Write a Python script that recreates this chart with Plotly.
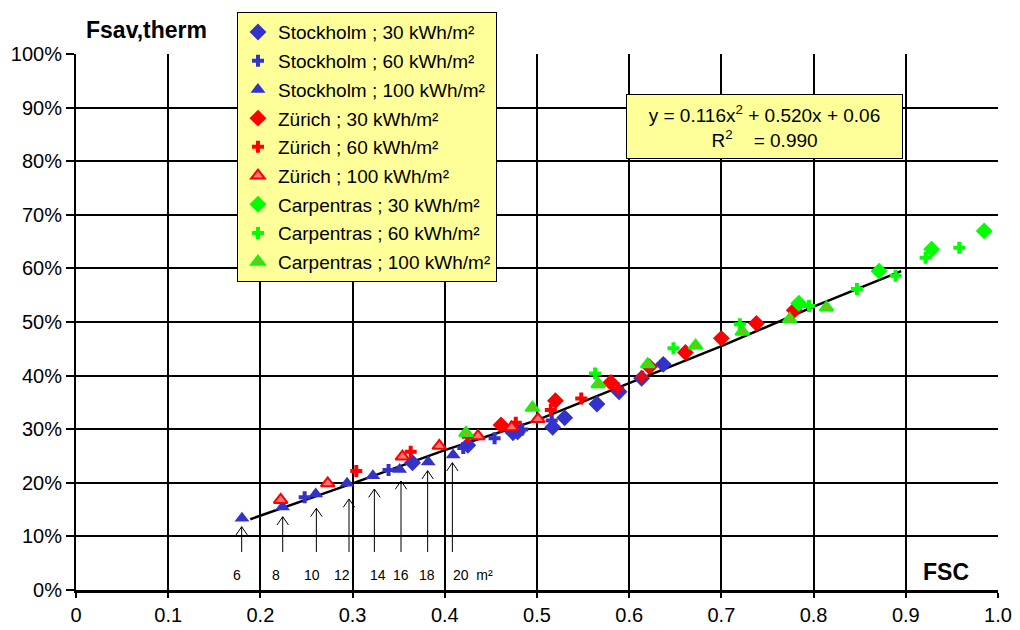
import plotly.graph_objects as go

# ---------------- data ----------------
sto30_x = [0.365, 0.425, 0.474, 0.479, 0.517, 0.530, 0.565, 0.589, 0.6135, 0.637]
sto30_y = [0.2375, 0.270, 0.2935, 0.295, 0.3035, 0.3215, 0.347, 0.370, 0.395, 0.421]
sto60_x = [0.248, 0.339, 0.420, 0.454, 0.484, 0.516]
sto60_y = [0.173, 0.224, 0.265, 0.283, 0.2995, 0.316]
sto100_x = [0.180, 0.224, 0.260, 0.294, 0.322, 0.351, 0.382, 0.409]
sto100_y = [0.134, 0.155, 0.179, 0.199, 0.213, 0.225, 0.239, 0.252]

zur30_x = [0.461, 0.520, 0.580, 0.622, 0.661, 0.700, 0.738, 0.779]
zur30_y = [0.308, 0.353, 0.387, 0.4165, 0.443, 0.4695, 0.4975, 0.522]
zur60_x = [0.304, 0.363, 0.425, 0.477, 0.515, 0.548, 0.588, 0.614]
zur60_y = [0.222, 0.258, 0.286, 0.312, 0.336, 0.3575, 0.376, 0.398]
zur100_x = [0.222, 0.273, 0.354, 0.394, 0.436, 0.4725, 0.501]
zur100_y = [0.168, 0.199, 0.249, 0.269, 0.287, 0.3035, 0.319]

car30_x = [0.784, 0.871, 0.928, 0.985]
car30_y = [0.535, 0.595, 0.6356, 0.670]
car60_x = [0.563, 0.648, 0.720, 0.795, 0.847, 0.889, 0.9215, 0.958]
car60_y = [0.404, 0.451, 0.496, 0.530, 0.5615, 0.5865, 0.620, 0.6386]
car100_x = [0.423, 0.495, 0.5665, 0.620, 0.672, 0.7227, 0.774, 0.814]
car100_y = [0.293, 0.340, 0.384, 0.421, 0.456, 0.482, 0.5055, 0.527]

fit_x = [0.189, 0.30, 0.40, 0.50, 0.60, 0.70, 0.80, 0.895]
fit_y = [0.132, 0.199, 0.261, 0.317, 0.386, 0.455, 0.5285, 0.595]

arrow_x = [0.1797, 0.2242, 0.2607, 0.2961, 0.3236, 0.3525, 0.3814, 0.4082]
arrow_tip = [0.1181, 0.1368, 0.1524, 0.1698, 0.1884, 0.2034, 0.2226, 0.2375]
arrow_base = 0.0709
area_labels = ["6", "8", "10", "12", "14", "16", "18", "20\u00a0\u00a0m²"]
area_label_x = [0.1746, 0.2166, 0.2556, 0.2882, 0.3279, 0.3525, 0.3804, 0.4306]
area_label_y = 0.028

x_ticks = [0.0, 0.1, 0.2, 0.3, 0.4, 0.5, 0.6, 0.7, 0.8, 0.9, 1.0]
x_ticktext = ["0", "0.1", "0.2", "0.3", "0.4", "0.5", "0.6", "0.7", "0.8", "0.9", "1.0"]
y_ticks = [0.0, 0.1, 0.2, 0.3, 0.4, 0.5, 0.6, 0.7, 0.8, 0.9, 1.0]
y_ticktext = ["0%", "10%", "20%", "30%", "40%", "50%", "60%", "70%", "80%", "90%", "100%"]

BLUE = "#3333CC"
RED = "#FF0000"
GREEN = "#00FF00"
FONT = "Liberation Sans, Arial, sans-serif"

fig = go.Figure()

# regression line (drawn first so markers sit on top)
fig.add_trace(go.Scatter(x=fit_x, y=fit_y, mode="lines",
                         line=dict(color="black", width=2.5),
                         showlegend=False, hoverinfo="skip"))

series = [
    ("Stockholm ; 30 kWh/m²", sto30_x, sto30_y, "diamond", 13, BLUE, BLUE, 0),
    ("Stockholm ; 60 kWh/m²", sto60_x, sto60_y, "cross", 10, BLUE, BLUE, 0),
    ("Stockholm ; 100 kWh/m²", sto100_x, sto100_y, "triangle-up", 13, BLUE, BLUE, 0),
    ("Zürich ; 30 kWh/m²", zur30_x, zur30_y, "diamond", 13, RED, RED, 0),
    ("Zürich ; 60 kWh/m²", zur60_x, zur60_y, "cross", 10, RED, RED, 0),
    ("Zürich ; 100 kWh/m²", zur100_x, zur100_y, "triangle-up", 12, "#FF7777", RED, 2),
    ("Carpentras ; 30 kWh/m²", car30_x, car30_y, "diamond", 13, GREEN, GREEN, 0),
    ("Carpentras ; 60 kWh/m²", car60_x, car60_y, "cross", 10, GREEN, GREEN, 0),
    ("Carpentras ; 100 kWh/m²", car100_x, car100_y, "triangle-up", 12, "#88B422", GREEN, 2),
]
for i, (name, xs, ys, sym, size, fill, edge, lw) in enumerate(series):
    fig.add_trace(go.Scatter(
        x=xs, y=ys, mode="markers", name=name, legendgroup=f"g{i}",
        marker=dict(symbol=sym, size=size, color=fill,
                    line=dict(color=edge, width=lw)),
    ))

# arrows (open V heads) for the collector areas
dx, dy = 0.0062, 0.0155
for xa, yt in zip(arrow_x, arrow_tip):
    path = (f"M {xa},{arrow_base} L {xa},{yt} "
            f"M {xa - dx},{yt - dy} L {xa},{yt} L {xa + dx},{yt - dy}")
    fig.add_shape(type="path", path=path, xref="x", yref="y",
                  line=dict(color="black", width=1))

for lab, lx in zip(area_labels, area_label_x):
    fig.add_annotation(x=lx, y=area_label_y, xref="x", yref="y", text=lab,
                       showarrow=False, xanchor="center", yanchor="middle",
                       font=dict(size=14, color="black", family=FONT))

# equation box
fig.add_annotation(
    x=0.7467, y=0.8647, xref="paper", yref="paper",
    xanchor="center", yanchor="middle",
    text="y = 0.116x<sup>2</sup> + 0.520x + 0.06<br>R<sup>2</sup>\u00a0\u00a0\u00a0\u00a0= 0.990",
    showarrow=False, align="center",
    font=dict(size=19, color="black", family=FONT),
    bgcolor="#FFFF99", bordercolor="black", borderwidth=1,
    width=273, height=61,
)

# axis titles
fig.add_annotation(x=0.077, y=1.0448, xref="paper", yref="paper",
                   xanchor="center", yanchor="middle",
                   text="<b>Fsav,therm</b>", showarrow=False,
                   font=dict(size=23, color="black", family=FONT))
fig.add_annotation(x=0.9436, y=0.0336, xref="paper", yref="paper",
                   xanchor="center", yanchor="middle",
                   text="<b>FSC</b>", showarrow=False,
                   font=dict(size=23, color="black", family=FONT))

fig.update_layout(
    width=1020, height=630, autosize=False,
    margin=dict(l=76, r=22, t=54, b=40, autoexpand=False),
    paper_bgcolor="white", plot_bgcolor="white",
    font=dict(family=FONT, color="black"),
    showlegend=True,
    legend=dict(
        x=0.1746, y=1.078, xanchor="left", yanchor="top",
        bgcolor="#FFFF99", bordercolor="black", borderwidth=1,
        font=dict(size=19, color="black", family=FONT),
        tracegroupgap=1, traceorder="grouped",
    ),
    xaxis=dict(range=[0, 1], tickvals=x_ticks, ticktext=x_ticktext,
               showgrid=True, gridcolor="black", gridwidth=2,
               showline=True, linecolor="black", linewidth=3, mirror=False,
               ticks="outside", ticklen=5, tickwidth=2, tickcolor="black",
               tickfont=dict(size=20, family=FONT, color="black"),
               zeroline=False, fixedrange=True),
    yaxis=dict(range=[0, 1], tickvals=y_ticks, ticktext=y_ticktext,
               showgrid=True, gridcolor="black", gridwidth=2,
               showline=True, linecolor="black", linewidth=2,
               ticks="outside", ticklen=8, tickwidth=2, tickcolor="black",
               tickfont=dict(size=20, family=FONT, color="black"),
               zeroline=False, fixedrange=True),
)

fig.write_html("out.html")
